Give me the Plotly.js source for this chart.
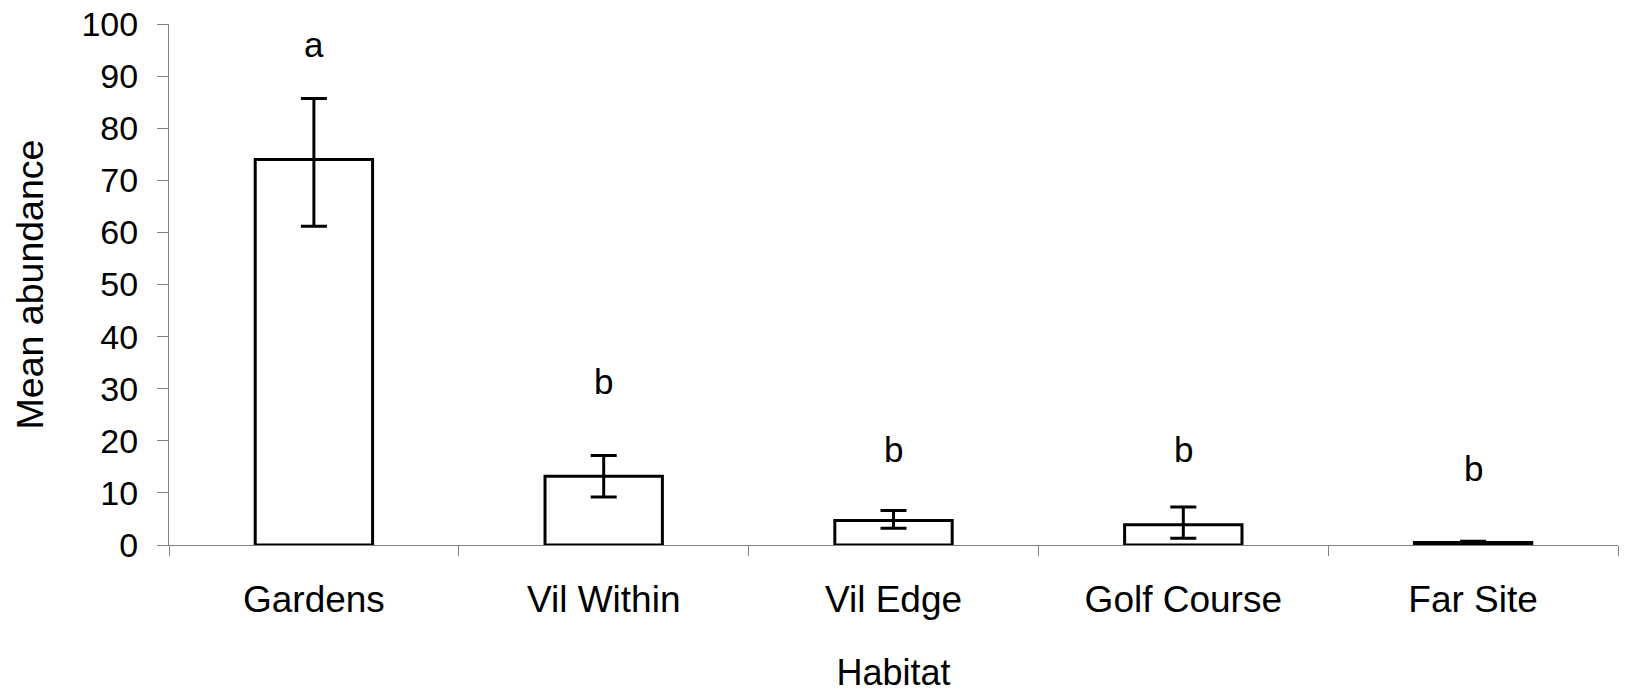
<!DOCTYPE html>
<html>
<head>
<meta charset="utf-8">
<script src="https://cdn.plot.ly/plotly-3.0.1.min.js"></script>
<style>html,body{margin:0;padding:0;background:#fff;}#chart{width:1629px;height:693px;}</style>
</head>
<body>
<div id="chart"></div>
<script>
var habitats = ["Gardens", "Vil Within", "Vil Edge", "Golf Course", "Far Site"];
var meanAbundance = [74, 13.2, 4.7, 3.9, 0.5];
var errPlus = [11.7, 4.0, 1.9, 3.4, 0.2];
var errMinus = [12.8, 4.0, 1.5, 2.6, 0.2];
var letters = ["a", "b", "b", "b", "b"];
var letterY = [96, 31.3, 18.4, 18.4, 14.6];
var yTicks = [0, 10, 20, 30, 40, 50, 60, 70, 80, 90, 100];

var FONT = "Liberation Sans, Arial, sans-serif";

var trace = {
  type: "bar",
  x: habitats,
  y: meanAbundance,
  width: 0.405,
  marker: {color: "#ffffff", line: {color: "#000000", width: 3}},
  error_y: {type: "data", symmetric: false, array: errPlus, arrayminus: errMinus,
            color: "#000000", thickness: 3, width: 13},
  hoverinfo: "x+y"
};

var annotations = habitats.map(function (h, i) {
  return {x: h, y: letterY[i], xref: "x", yref: "y", text: letters[i], showarrow: false,
          font: {family: FONT, size: 35, color: "#000"}, xanchor: "center", yanchor: "middle"};
});

var layout = {
  width: 1629, height: 693,
  margin: {l: 169, r: 11, t: 24, b: 148},
  paper_bgcolor: "#fff", plot_bgcolor: "#fff",
  showlegend: false,
  font: {family: FONT, size: 35, color: "#000"},
  xaxis: {
    type: "category",
    tickson: "boundaries",
    ticks: "outside", ticklen: 10, tickcolor: "#808080", tickwidth: 1,
    showline: true, linecolor: "#808080", linewidth: 1,
    showgrid: false, zeroline: false,
    tickfont: {family: FONT, size: 37, color: "#000"},
    ticklabelstandoff: 22,
    title: {text: "Habitat", font: {family: FONT, size: 36, color: "#000"}, standoff: 42},
    automargin: false
  },
  yaxis: {
    range: [0, 100],
    tickmode: "array", tickvals: yTicks, ticktext: yTicks.map(String),
    ticks: "outside", ticklen: 11, tickcolor: "#808080", tickwidth: 1,
    showline: true, linecolor: "#808080", linewidth: 1,
    showgrid: false, zeroline: false,
    tickfont: {family: FONT, size: 34, color: "#000"},
    ticklabelstandoff: 12,
    title: {text: "Mean abundance", font: {family: FONT, size: 37.5, color: "#000"}, standoff: 26},
    automargin: false
  },
  annotations: annotations
};

Plotly.newPlot("chart", [trace], layout, {displayModeBar: false, staticPlot: true});
</script>
</body>
</html>
